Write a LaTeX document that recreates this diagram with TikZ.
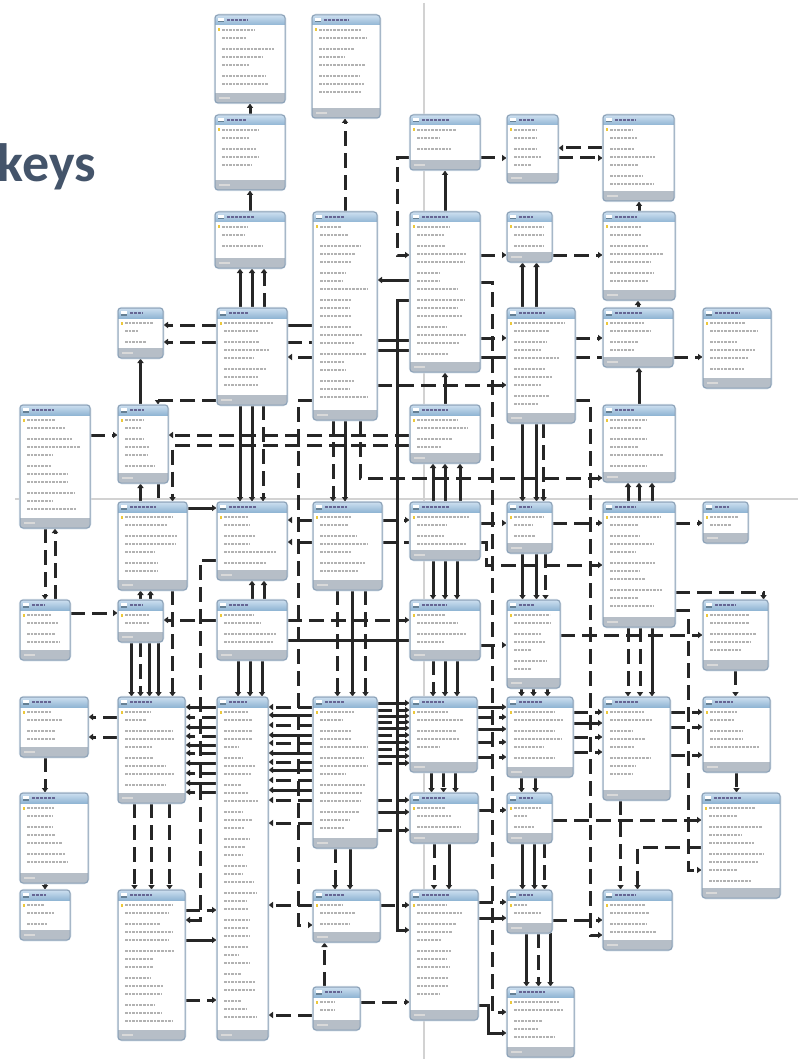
\documentclass[tikz,border=0pt]{standalone}
\usepackage{fontspec}
\newfontfamily\slidefont{Carlito}
\usepackage{tikz}
\usetikzlibrary{arrows.meta, positioning}
\definecolor{slatetext}{RGB}{68,84,106}
\definecolor{hdrtop}{RGB}{205,223,240}
\definecolor{hdrbot}{RGB}{145,182,212}
\definecolor{tblframe}{RGB}{138,160,182}
\definecolor{tblglow}{RGB}{214,224,234}
\definecolor{footgray}{RGB}{182,190,199}
\definecolor{guidegray}{RGB}{210,210,210}
\definecolor{keyyellow}{RGB}{236,200,60}
\pgfdeclarelayer{guides}
\pgfdeclarelayer{links}
\pgfsetlayers{guides,links,main}

\tikzset{
  tblnode/.style={inner sep=0pt, outer sep=0pt, anchor=north west},
  rowtext/.style={line width=1.1pt, gray!60, dash pattern=on 2.6pt off 1pt},
  titletext/.style={line width=1.6pt, blue!30!black!60, dash pattern=on 3pt off 1pt},
  rel/.style={line width=3pt, draw=black!85, dash pattern=on 15pt off 7pt},
  idrel/.style={line width=3pt, draw=black!85}
}

% one table box: name, x, y, width, height
\newcommand{\erbox}[5]{%
  \node[tblnode, minimum width=#4pt, minimum height=#5pt] (#1) at (#2,#3) {};
  \draw[tblglow, line width=2.5pt, rounded corners=4pt] (#1.north west) rectangle (#1.south east);
  \fill[white, rounded corners=3pt] (#1.north west) rectangle (#1.south east);
  \begin{scope}
    \clip[rounded corners=3pt] (#1.north west) rectangle (#1.south east);
    \shade[top color=hdrtop, bottom color=hdrbot] (#1.north west) rectangle ([yshift=-10pt]#1.north east);
    \fill[footgray] ([yshift=10pt]#1.south west) rectangle (#1.south east);
  \end{scope}
  \draw[tblframe, line width=1pt, rounded corners=3pt] (#1.north west) rectangle (#1.south east);
  \fill[white] (#2+3,#3+3) rectangle (#2+9,#3+7.5);
  \fill[hdrbot!70!black] (#2+3,#3+6) rectangle (#2+9,#3+7.5);
  \pgfmathsetmacro\tlen{8+(#4-30)*0.25*(1+rnd)}
  \draw[titletext] (#2+12,#3+5.2) -- ++(\tlen,0);
  \draw[white!70!gray, line width=1.2pt] (#2+4,#3+#5-5) -- ++(11,0);
  \foreach \r in {1,...,40}{
    \pgfmathtruncatemacro\gp{\r>2 ? 3*(1+floor((\r-3)/3)) : 0}
    \pgfmathsetmacro\yr{#3+15+8*(\r-1)+\gp}
    \pgfmathtruncatemacro\ok{\yr < #3+#5-15 ? 1 : 0}
    \ifnum\ok=1
      \pgfmathsetmacro\len{(#4-14)*(0.4+0.55*rnd)}
      \draw[rowtext] (#2+7,\yr) -- ++(\len,0);
      \ifnum\r=1 \fill[keyyellow] (#2+2.5,\yr-1.5) rectangle ++(2.5,3); \fi
    \else
      \breakforeach
    \fi
  }%
}

\begin{document}
\begin{tikzpicture}[x=1pt, y=-1pt, >={Latex[length=5pt,width=7pt]}]
\pgfmathsetseed{42}
\useasboundingbox (0,0) rectangle (798,1059);
\begin{pgfonlayer}{guides}
  \fill[white] (0,0) rectangle (798,1059);
  \draw[guidegray, line width=2pt] (424,3) -- (424,1059);
  \draw[guidegray, line width=2pt] (15,499) -- (798,499);
\end{pgfonlayer}

\node[anchor=base east, inner sep=0pt, text=slatetext,
      font=\slidefont\bfseries\fontsize{54pt}{60pt}\selectfont] (heading) at (96,182) {keys};

% tables, named by column and row
\erbox{c2r0}{215}{15}{70}{88}
\erbox{c3r0}{312}{15}{68}{103}
\erbox{c2r1}{215}{115}{70}{75}
\erbox{c4r1}{410}{115}{70}{55}
\erbox{c5r1}{507}{115}{51}{68}
\erbox{c6r1}{603}{115}{71}{86}
\erbox{c2r2}{215}{212}{70}{56}
\erbox{c3r2}{313}{212}{64}{208}
\erbox{c4r2}{410}{212}{70}{160}
\erbox{c5r2}{507}{212}{45}{50}
\erbox{c6r2}{603}{212}{72}{88}
\erbox{c1r3}{118}{308}{45}{50}
\erbox{c2r3}{217}{308}{70}{97}
\erbox{c5r3}{507}{308}{68}{115}
\erbox{c6r3}{603}{308}{70}{59}
\erbox{c7r3}{703}{308}{68}{80}
\erbox{c0r4}{20}{405}{70}{123}
\erbox{c1r4}{118}{405}{50}{78}
\erbox{c4r4}{410}{405}{70}{58}
\erbox{c6r4}{603}{405}{72}{77}
\erbox{c1r5}{118}{502}{69}{88}
\erbox{c2r5}{217}{502}{70}{78}
\erbox{c3r5}{313}{502}{69}{88}
\erbox{c4r5}{410}{502}{70}{58}
\erbox{c5r5}{507}{502}{45}{51}
\erbox{c6r5}{603}{502}{72}{125}
\erbox{c7r5}{703}{502}{45}{41}
\erbox{c0r6}{20}{600}{50}{60}
\erbox{c1r6}{118}{600}{45}{42}
\erbox{c2r6}{217}{600}{70}{60}
\erbox{c4r6}{410}{600}{70}{60}
\erbox{c5r6}{507}{600}{53}{88}
\erbox{c7r6}{703}{600}{65}{70}
\erbox{c0r7}{20}{697}{68}{60}
\erbox{c1r7}{118}{697}{67}{106}
\erbox{c2r7}{217}{697}{51}{343}
\erbox{c3r7}{313}{697}{64}{151}
\erbox{c4r7}{410}{697}{67}{75}
\erbox{c5r7}{507}{697}{66}{80}
\erbox{c6r7}{603}{697}{67}{103}
\erbox{c7r7}{703}{697}{67}{75}
\erbox{c0r8}{20}{793}{68}{90}
\erbox{c4r8}{410}{793}{68}{50}
\erbox{c5r8}{507}{793}{45}{50}
\erbox{c7r8}{702}{793}{78}{105}
\erbox{c0r9}{20}{890}{50}{50}
\erbox{c1r9}{118}{890}{67}{150}
\erbox{c3r9}{313}{890}{67}{52}
\erbox{c4r9}{410}{890}{68}{130}
\erbox{c5r9}{507}{890}{45}{43}
\erbox{c6r9}{603}{890}{69}{60}
\erbox{c3r10}{313}{987}{47}{43}
\erbox{c5r10}{507}{987}{67}{70}

\begin{pgfonlayer}{links}
% upper block
\draw[idrel,->] (c2r1.north) -- (c2r1.north |- c2r0.south);
\draw[idrel,->] (c2r2.north) -- (c2r2.north |- c2r1.south);
\foreach \dx/\st in {-12/idrel, 0/idrel, 12/rel}
  \draw[\st,->] ([xshift=\dx]c2r3.north) -- ([xshift=\dx]c2r3.north |- c2r2.south);
\draw[rel,->] (c3r2.north) -- (c3r2.north |- c3r0.south);
\draw[idrel,->] (c4r2.north) -- (c4r2.north |- c4r1.south);
\draw[rel,->] ([yshift=-43]c4r1.north west) -- ++(-13,0) |- ([yshift=-43]c4r2.north west);
\draw[rel,->] ([yshift=-43]c4r1.north east) -- ([yshift=-43]c4r1.north east -| c5r1.west);
\draw[rel,->] ([yshift=-33]c6r1.north west) -- ([yshift=-33]c6r1.north west -| c5r1.east);
\draw[rel,->] ([yshift=-43]c5r1.north east) -- ([yshift=-43]c5r1.north east -| c6r1.west);
\draw[idrel,->] (c6r2.north) -- (c6r2.north |- c6r1.south);
\draw[rel,->] ([yshift=-43]c4r2.north east) -- ([yshift=-43]c4r2.north east -| c5r2.west);
\draw[rel,->] ([yshift=-43]c5r2.north east) -- ([yshift=-43]c5r2.north east -| c6r2.west);
\draw[idrel,->] ([yshift=-68]c4r2.north west) -- ([yshift=-68]c4r2.north west -| c3r2.east);
\foreach \dx in {-7, 7}
  \draw[idrel,->] ([xshift=\dx]c5r2.south |- c5r3.north) -- ([xshift=\dx]c5r2.south);
\draw[idrel,->] (c6r3.north) -- (c6r3.north |- c6r2.south);
\draw[idrel,->] (c6r4.north) -- (c6r4.north |- c6r3.south);

% row 3
\foreach \dy in {17, 34}
  \draw[rel,->] ([yshift=-\dy]c2r3.north west) -- ([yshift=-\dy]c2r3.north west -| c1r3.east);
\foreach \dy/\st in {17/idrel, 34/rel}
  \draw[\st] ([yshift=-\dy]c2r3.north east) -- ([yshift=-\dy]c2r3.north east -| c3r2.west);
\draw[rel,->] ([yshift=-145]c3r2.north west) -- ([yshift=-145]c3r2.north west -| c2r3.east);
\draw[idrel,->] (c1r3.south |- c1r4.north) -- (c1r3.south);
\draw[rel,->] ([yshift=5]c2r3.south west) -| ([xshift=15]c1r4.north);
\foreach \dy in {128, 138}
  \draw[idrel] ([yshift=-\dy]c3r2.north east) -- ([yshift=-\dy]c3r2.north east -| c4r2.west);
\draw[rel,->] ([yshift=-126]c4r2.north east) -- ([yshift=-126]c4r2.north east -| c5r3.west);
\draw[idrel] ([yshift=-145]c4r2.north east) -- ([yshift=-145]c4r2.north east -| c5r3.west);
\draw[rel,->] ([yshift=-30]c5r3.north east) -- ([yshift=-30]c5r3.north east -| c6r3.west);
\draw[rel] ([yshift=-49]c5r3.north east) -- ([yshift=-49]c5r3.north east -| c6r3.west);
\draw[rel,->] ([yshift=-49]c6r3.north east) -- ([yshift=-49]c6r3.north east -| c7r3.west);
\draw[rel,->] ([yshift=-173]c3r2.north east) -- ([yshift=-173]c3r2.north east -| c5r3.west);

% long runs
\draw[idrel,->] ([yshift=-88]c4r2.north west) -- ++(-13,0) |- ([yshift=-40]c4r9.north west);
\draw[rel,->] ([yshift=-70]c4r2.north east) -- ++(12,0) |- ([yshift=-25]c5r10.north west);
\draw[rel,->] ([yshift=-92]c5r3.north east) -- ++(15,0) |- ([yshift=-45]c6r9.north west);
\draw[rel,->] ([yshift=-188]c3r2.north west) -- ++(-15,0) |- ([yshift=-35]c3r9.north west);
\draw[rel,->] ([yshift=-58]c2r5.north west) -- ++(-17,0) |- ([yshift=-30]c1r9.north east);
\draw[rel,->] ([yshift=-108]c6r5.north east) -- ++(13,0) |- ([yshift=-77]c7r8.north west);
\draw[rel,->] ([xshift=15]c3r2.south) |- ([yshift=-73]c6r4.north west);
\draw[rel,->] ([yshift=-30]c4r4.north west) -- ([yshift=-30]c4r4.north west -| c1r4.east);
\draw[rel,->] ([yshift=-40]c4r4.north west) -| ([xshift=20]c1r5.north);

% rows 4 and 5
\draw[rel,->] ([yshift=-30]c0r4.north east) -- ([yshift=-30]c0r4.north east -| c1r4.west);
\draw[rel,->] ([xshift=-10]c0r4.south) -- ([xshift=-10]c0r4.south |- c0r6.north);
\draw[rel,->] (c0r4.south |- c0r6.north) -- (c0r4.south);
\draw[idrel,->] (c1r3.south |- c1r5.north) -- (c1r3.south |- c1r4.south);
\draw[rel] ([xshift=15]c1r4.south) -- ([xshift=15]c1r4.south |- c1r5.north);
\foreach \dx/\st in {-12/idrel, 0/idrel, 11/rel}
  \draw[\st,->] ([xshift=\dx]c2r3.south) -- ([xshift=\dx]c2r3.south |- c2r5.north);
\draw[idrel,->] (c4r4.north) -- (c4r4.north |- c4r2.south);
\draw[rel,->] ([xshift=-12]c3r2.south) -- ([xshift=-12]c3r2.south |- c3r5.north);
\draw[idrel,->] (c3r2.south) -- (c3r2.south |- c3r5.north);
\foreach \dx in {-12, 0, 15}
  \draw[idrel,->] ([xshift=\dx]c4r5.north) -- ([xshift=\dx]c4r5.north |- c4r4.south);
\foreach \dx/\st in {-7/idrel, 7/idrel, 14/rel}
  \draw[\st,->] ([xshift=\dx]c5r5.north |- c5r3.south) -- ([xshift=\dx]c5r5.north);
\foreach \dx in {-11, 0, 13}
  \draw[idrel,->] ([xshift=\dx]c6r5.north) -- ([xshift=\dx]c6r5.north |- c6r4.south);
\draw[idrel,->] ([yshift=-6]c1r5.north east) -- ([yshift=-6]c1r5.north east -| c2r5.west);
\foreach \dy in {18, 40}
  \draw[rel,->] ([yshift=-\dy]c3r5.north west) -- ([yshift=-\dy]c3r5.north west -| c2r5.east);
\draw[rel,->] ([yshift=-18]c3r5.north east) -- ([yshift=-18]c3r5.north east -| c4r5.west);
\draw[rel] ([yshift=-40]c3r5.north east) -- ([yshift=-40]c3r5.north east -| c4r5.west);
\draw[rel,->] ([yshift=-21]c4r5.north east) -- ([yshift=-21]c4r5.north east -| c5r5.west);
\draw[rel,->] ([yshift=-21]c5r5.north east) -- ([yshift=-21]c5r5.north east -| c6r5.west);
\draw[rel,->] ([yshift=-21]c6r5.north east) -- ([yshift=-21]c6r5.north east -| c7r5.west);
\draw[rel,->] ([yshift=-40]c4r5.north east) -- ++(6,0) |- ([yshift=-63]c6r5.north west);
\draw[rel,->] ([yshift=-90]c6r5.north east) -| ([xshift=28]c7r6.north);

% row 6
\draw[rel,->] ([yshift=-13]c0r6.north east) -- ([yshift=-13]c0r6.north east -| c1r6.west);
\draw[rel,->] ([yshift=-20]c2r6.north west) -- ([yshift=-20]c2r6.north west -| c1r6.east);
\draw[rel,->] ([yshift=-20]c2r6.north east) -- ([yshift=-20]c2r6.north east -| c4r6.west);
\draw[idrel] ([yshift=-40]c2r6.north east) -- ([yshift=-40]c2r6.north east -| c4r6.west);
\draw[rel,->] ([yshift=-45]c4r6.north east) -- ([yshift=-45]c4r6.north east -| c5r6.west);
\draw[rel,->] ([yshift=-35]c5r6.north east) -- ([yshift=-35]c5r6.north east -| c7r6.west);
\foreach \dx/\st in {0/idrel, 10/rel}
  \draw[\st,->] ([xshift=\dx]c1r6.north) -- ([xshift=\dx]c1r6.north |- c1r5.south);
\draw[rel,->] ([xshift=20]c1r5.south) -- ([xshift=20]c1r5.south |- c1r7.north);
\foreach \dx/\st in {0/idrel, 12/rel}
  \draw[\st,->] ([xshift=\dx]c2r6.north) -- ([xshift=\dx]c2r6.north |- c2r5.south);
\foreach \dx in {-14, -2, 10}
  \draw[idrel,->] ([xshift=\dx]c2r6.south) -- ([xshift=\dx]c2r6.south |- c2r7.north);
\foreach \dx/\st in {-9/idrel, 0/rel, 9/idrel, 18/idrel}
  \draw[\st,->] ([xshift=\dx]c1r6.south) -- ([xshift=\dx]c1r6.south |- c1r7.north);
\foreach \dx/\st in {-10/rel, 5/idrel, 18/rel}
  \draw[\st,->] ([xshift=\dx]c3r5.south) -- ([xshift=\dx]c3r5.south |- c3r7.north);
\foreach \dx in {-12, 0, 12}
  \draw[idrel,->] ([xshift=\dx]c4r5.south) -- ([xshift=\dx]c4r5.south |- c4r6.north);
\foreach \dx/\st in {-12/rel, 0/idrel, 12/idrel}
  \draw[\st,->] ([xshift=\dx]c4r6.south) -- ([xshift=\dx]c4r6.south |- c4r7.north);
\foreach \dx/\st in {-7/idrel, 7/idrel, 16/rel}
  \draw[\st,->] ([xshift=\dx]c5r5.south) -- ([xshift=\dx]c5r5.south |- c5r6.north);
\foreach \dx/\st in {-12/idrel, 0/idrel, 14/rel}
  \draw[\st,->] ([xshift=\dx]c5r6.south) -- ([xshift=\dx]c5r6.south |- c5r7.north);
\foreach \dx/\st in {-11/rel, 1/rel, 13/idrel}
  \draw[\st,->] ([xshift=\dx]c6r5.south) -- ([xshift=\dx]c6r5.south |- c6r7.north);
\draw[rel,->] (c7r6.south) -- (c7r6.south |- c7r7.north);
\draw[rel,->] (c7r7.south) -- (c7r7.south |- c7r8.north);

% row 7 bundles
\foreach \dy in {20, 40}
  \draw[rel,->] ([yshift=-\dy]c1r7.north west) -- ([yshift=-\dy]c1r7.north west -| c0r7.east);
\foreach \dy/\st in {10/idrel, 20/rel, 30/idrel, 39/rel, 48/idrel, 56/rel, 66/idrel, 76/rel, 86/idrel, 95/rel}
  \draw[\st,->] ([yshift=-\dy]c2r7.north west) -- ([yshift=-\dy]c2r7.north west -| c1r7.east);
\foreach \dy/\st in {10/rel, 18/idrel, 28/rel, 38/idrel, 46/rel, 56/idrel, 65/rel, 73/idrel, 83/rel, 93/idrel, 103/rel, 126/rel}
  \draw[\st,->] ([yshift=-\dy]c3r7.north west) -- ([yshift=-\dy]c3r7.north west -| c2r7.east);
\foreach \dy/\st in {6/idrel, 13/rel, 19/idrel, 25/rel, 31/idrel, 38/rel, 45/idrel, 52/rel, 59/idrel, 66/rel}
  \draw[\st,->] ([yshift=-\dy]c3r7.north east) -- ([yshift=-\dy]c3r7.north east -| c4r7.west);
\foreach \dy/\st in {103/rel, 115/idrel, 133/rel}
  \draw[\st,->] ([yshift=-\dy]c3r7.north east) -- ([yshift=-\dy]c3r7.north east -| c4r8.west);
\foreach \dy/\st in {10/idrel, 20/rel, 32/idrel, 45/rel, 60/rel}
  \draw[\st,->] ([yshift=-\dy]c4r7.north east) -- ([yshift=-\dy]c4r7.north east -| c5r7.west);
\foreach \dy/\st in {15/rel, 26/idrel, 40/rel, 55/rel}
  \draw[\st,->] ([yshift=-\dy]c5r7.north east) -- ([yshift=-\dy]c5r7.north east -| c6r7.west);
\foreach \dy in {15, 30, 58}
  \draw[rel,->] ([yshift=-\dy]c6r7.north east) -- ([yshift=-\dy]c6r7.north east -| c7r7.west);

% lower block
\draw[rel,->] ([yshift=-17]c4r8.north east) -- ([yshift=-17]c4r8.north east -| c5r8.west);
\draw[rel,->] ([yshift=-27]c5r8.north east) -- ([yshift=-27]c5r8.north east -| c7r8.west);
\foreach \dx/\st in {-12/idrel, 0/rel, 12/idrel}
  \draw[\st,->] ([xshift=\dx]c4r7.south) -- ([xshift=\dx]c4r7.south |- c4r8.north);
\foreach \dx/\st in {-10/rel, 5/idrel}
  \draw[\st,->] ([xshift=\dx]c4r8.south) -- ([xshift=\dx]c4r8.south |- c4r9.north);
\foreach \dx/\st in {-8/idrel, 6/rel}
  \draw[\st,->] ([xshift=\dx]c5r8.north |- c5r7.south) -- ([xshift=\dx]c5r8.north);
\foreach \dx/\st in {-7/idrel, 5/idrel, 15/rel}
  \draw[\st,->] ([xshift=\dx]c5r8.south) -- ([xshift=\dx]c5r8.south |- c5r9.north);
\foreach \dx/\st in {-14/idrel, -2/rel, 10/idrel}
  \draw[\st,->] ([xshift=\dx]c5r10.north |- c5r9.south) -- ([xshift=\dx]c5r10.north);
\draw[rel,->] ([xshift=-16]c6r7.south) -- ([xshift=-16]c6r7.south |- c6r9.north);
\draw[rel,->] ([yshift=-54]c7r8.north west) -| (c6r9.north);
\draw[rel,->] ([yshift=-30]c5r9.north east) -- ([yshift=-30]c5r9.north east -| c6r9.west);
\draw[rel,->] ([yshift=-12]c4r9.north east) -- ([yshift=-12]c4r9.north east -| c5r9.west);
\draw[idrel,->] ([yshift=-28]c4r9.north east) -- ([yshift=-28]c4r9.north east -| c5r9.west);
\draw[idrel,->] ([yshift=-115]c4r9.north east) -- ++(10,0) |- ([yshift=-46]c5r10.north west);
\foreach \dx/\st in {-10/rel, 5/idrel}
  \draw[\st,->] ([xshift=\dx]c3r7.south) -- ([xshift=\dx]c3r7.south |- c3r9.north);
\draw[rel,->] ([xshift=-12]c3r10.north) -- ([xshift=-12]c3r10.north |- c3r9.south);
\draw[rel,->] ([yshift=-15]c3r9.north east) -- ([yshift=-15]c3r9.north east -| c4r9.west);
\draw[rel,->] ([yshift=-15]c3r10.north east) -- ([yshift=-15]c3r10.north east -| c4r9.west);
\draw[rel,->] ([yshift=-15]c3r9.north west) -- ([yshift=-15]c3r9.north west -| c2r7.east);
\draw[rel,->] ([yshift=-28]c3r10.north west) -- ([yshift=-28]c3r10.north west -| c2r7.east);
\foreach \dy/\st in {20/rel, 50/idrel, 110/rel}
  \draw[\st,->] ([yshift=-\dy]c1r9.north east) -- ([yshift=-\dy]c1r9.north east -| c2r7.west);
\foreach \dx/\st in {-17/rel, 0/rel, 18/rel}
  \draw[\st,->] ([xshift=\dx]c1r7.south) -- ([xshift=\dx]c1r7.south |- c1r9.north);
\draw[rel,->] ([xshift=-9]c0r7.south) -- ([xshift=-9]c0r7.south |- c0r8.north);
\draw[idrel,->] (c0r9.north |- c0r8.south) -- (c0r9.north);
\end{pgfonlayer}
\end{tikzpicture}
\end{document}
